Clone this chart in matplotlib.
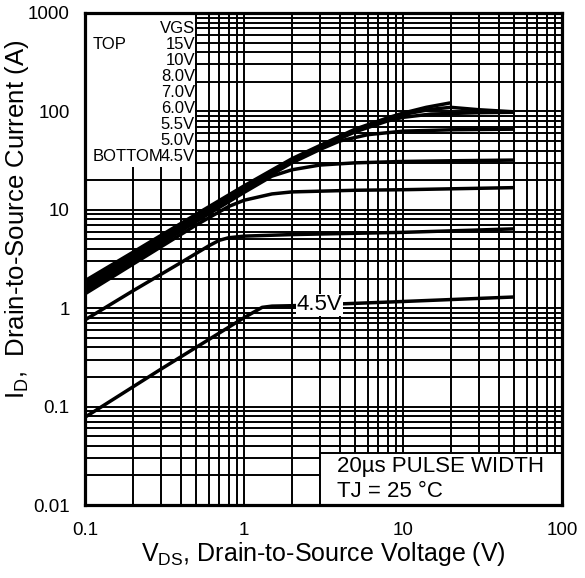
import matplotlib
matplotlib.use("Agg")
import matplotlib.pyplot as plt
from matplotlib.patches import Rectangle

plt.rcParams['font.family'] = ['Liberation Sans', 'DejaVu Sans']
plt.rcParams['mathtext.fontset'] = 'custom'
plt.rcParams['mathtext.rm'] = 'Liberation Sans'

# Output characteristics
vds_15 = [0.1, 0.2, 0.5, 1, 2, 3, 5, 8, 10, 14, 19.8]
id_15 = [1.9, 3.7, 9.0, 17.5, 33, 45, 66, 86, 96, 110, 122]

vds_10 = [0.1, 0.2, 0.5, 1, 2, 3, 5, 8, 10, 15, 20, 30, 50]
id_10 = [1.8, 3.5, 8.6, 16.8, 32, 44, 64, 84, 93, 105, 110, 104, 99]

vds_8 = [0.1, 0.2, 0.5, 1, 2, 3, 5, 8, 10, 15, 30, 50]
id_8 = [1.7, 3.35, 8.3, 16.3, 31, 43, 62, 80, 87, 94, 97, 98]

vds_7 = [0.1, 0.2, 0.5, 1, 2, 3, 4, 6, 10, 20, 50]
id_7 = [1.6, 3.2, 8.0, 15.8, 30, 41, 50, 58, 63, 65, 66]

vds_6 = [0.1, 0.2, 0.5, 1, 1.5, 2, 3, 5, 10, 20, 50]
id_6 = [1.5, 3.0, 7.6, 15, 22, 25.5, 28.5, 30, 31, 31.5, 32]

vds_55 = [0.1, 0.2, 0.5, 0.8, 1, 1.5, 2, 5, 10, 50]
id_55 = [1.4, 2.8, 7.0, 10.8, 12.5, 14.5, 15.2, 15.8, 16, 16.8]

vds_5 = [0.1, 0.2, 0.4, 0.6, 0.7, 0.8, 1, 2, 10, 50]
id_5 = [0.76, 1.5, 2.9, 4.3, 4.9, 5.2, 5.4, 5.6, 5.9, 6.4]

vds_45 = [0.1, 0.3, 0.6, 1, 1.3, 1.5, 2, 5, 10, 50]
id_45 = [0.078, 0.24, 0.48, 0.8, 1.02, 1.05, 1.06, 1.12, 1.17, 1.3]

curves = [(vds_15, id_15), (vds_10, id_10), (vds_8, id_8), (vds_7, id_7),
          (vds_6, id_6), (vds_55, id_55), (vds_5, id_5), (vds_45, id_45)]

vgs_labels = ['VGS', '15V', '10V', '8.0V', '7.0V', '6.0V', '5.5V', '5.0V', '4.5V']
x_ticks = [0.1, 1, 10, 100]
x_ticklabels = ['0.1', '1', '10', '100']
y_ticks = [0.01, 0.1, 1, 10, 100, 1000]
y_ticklabels = ['0.01', '0.1', '1', '10', '100', '1000']

fig = plt.figure(figsize=(5.85, 5.78), dpi=100)
ax = fig.add_axes([85 / 585, 1 - 505 / 578, 477 / 585, 492 / 578])
ax.set_xscale('log')
ax.set_yscale('log')
ax.set_xlim(0.1, 100)
ax.set_ylim(0.01, 1000)
ax.set_axisbelow(True)
ax.grid(which='both', color='black', lw=1.4)

for vds, ids in curves:
    ax.plot(vds, ids, color='black', lw=2.5, solid_capstyle='butt', zorder=2)

# blank areas for the legend text and the note box
ax.add_patch(Rectangle((0.1, 27), 0.39, 973, facecolor='white',
                       edgecolor='none', zorder=1))
ax.add_patch(Rectangle((3, 0.01), 97, 0.024, facecolor='white',
                       edgecolor='black', lw=1.4, zorder=1))

ax.set_xticks(x_ticks)
ax.set_xticklabels(x_ticklabels)
ax.set_yticks(y_ticks)
ax.set_yticklabels(y_ticklabels)
ax.tick_params(which='both', length=0)
ax.tick_params(axis='x', pad=12, labelsize=13.5)
ax.tick_params(axis='y', pad=11, labelsize=13.5)
for s in ax.spines.values():
    s.set_linewidth(2.3)

ax.set_xlabel(r'$\mathrm{V_{DS}}$, Drain-to-Source Voltage (V)', fontsize=18)
ax.xaxis.set_label_coords(0.5, -0.10)
ax.xaxis.label.set_va('center')
ax.set_ylabel(r'$\mathrm{I_D}$,  Drain-to-Source Current (A)', fontsize=18.5)
ax.yaxis.set_label_coords(-0.143, 0.581)
ax.yaxis.label.set_va('center')

# VGS legend block
for i, lab in enumerate(vgs_labels):
    ax.text(0.2306, 0.9675 - i * 0.0325, lab, transform=ax.transAxes,
            ha='right', va='center', fontsize=12)
ax.text(0.015, 0.9675 - 0.0325, 'TOP', transform=ax.transAxes,
        ha='left', va='center', fontsize=12)
ax.text(0.015, 0.9675 - 8 * 0.0325, 'BOTTOM', transform=ax.transAxes,
        ha='left', va='center', fontsize=12)

ax.text(3.0, 1.08, '4.5V', ha='center', va='center', fontsize=16, zorder=3,
        bbox=dict(facecolor='white', edgecolor='none', pad=0.5))

ax.text(0.529, 0.078, '20\u00b5s PULSE WIDTH', transform=ax.transAxes,
        ha='left', va='center', fontsize=16, zorder=3)
ax.text(0.529, 0.027, 'TJ = 25 \u00b0C', transform=ax.transAxes,
        ha='left', va='center', fontsize=16, zorder=3)

fig.savefig('out.png', dpi=100)
